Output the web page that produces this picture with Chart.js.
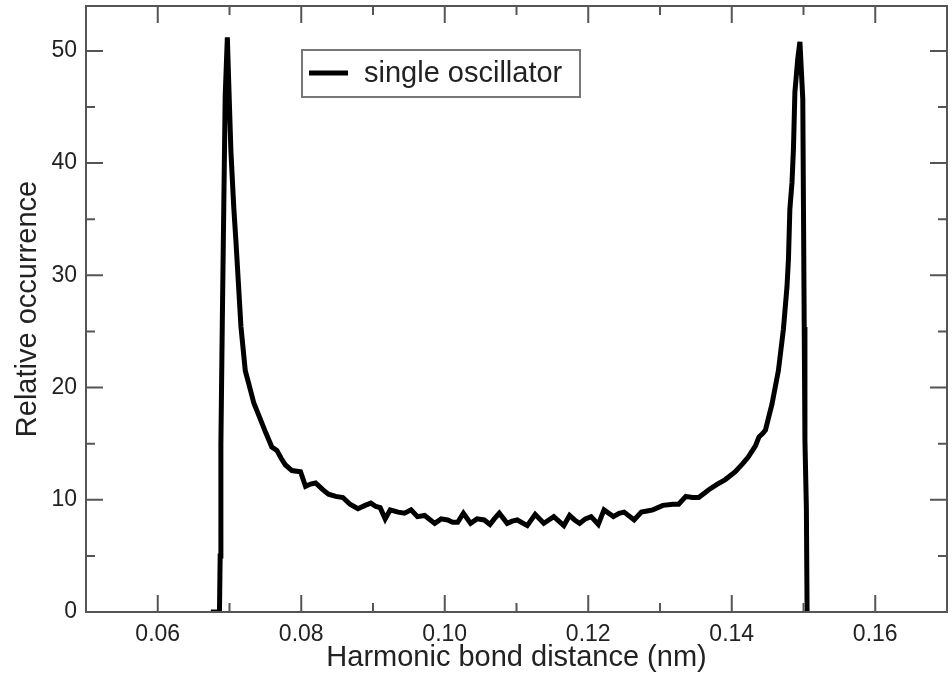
<!DOCTYPE html>
<html>
<head>
<meta charset="utf-8">
<script src="https://cdn.jsdelivr.net/npm/chart.js@4.4.1/dist/chart.umd.min.js"></script>
<style>
  body { margin: 0; background: #fff; }
  #wrap { width: 952px; height: 677px; }
</style>
</head>
<body>
<div id="wrap"><canvas id="myChart" width="952" height="677"></canvas></div>
<script>
// data
const seriesLabel = 'single oscillator';
const distance = [
  0.0674, 0.0686, 0.0687, 0.0688, 0.0690, 0.0692, 0.0694, 0.0697, 0.0699, 0.0702,
  0.0706, 0.0709, 0.0716, 0.0722, 0.0727, 0.0734, 0.0741, 0.0751, 0.0759, 0.0766,
  0.0772, 0.0778, 0.0787, 0.0799, 0.0806, 0.0813, 0.0820, 0.0830, 0.0838, 0.0848,
  0.0858, 0.0868, 0.0879, 0.0889, 0.0897, 0.0904, 0.0910, 0.0917, 0.0924, 0.0935,
  0.0944, 0.0953, 0.0962, 0.0972, 0.0986, 0.0995, 0.1004, 0.1011, 0.1018, 0.1026,
  0.1036, 0.1045, 0.1055, 0.1063, 0.1069, 0.1076, 0.1087, 0.1094, 0.1101, 0.1115,
  0.1126, 0.1138, 0.1145, 0.1152, 0.1166, 0.1174, 0.1181, 0.1188, 0.1196, 0.1204,
  0.1214, 0.1222, 0.1235, 0.1243, 0.1250, 0.1264, 0.1274, 0.1282, 0.1290, 0.1304,
  0.1318, 0.1326, 0.1336, 0.1345, 0.1354, 0.1368, 0.1380, 0.1391, 0.1405, 0.1415,
  0.1423, 0.1433, 0.1438, 0.1443, 0.1447, 0.1452, 0.1456, 0.1465, 0.1472, 0.1477,
  0.1479, 0.1481, 0.1484, 0.1486, 0.1488, 0.1492, 0.1495, 0.1499, 0.1500, 0.1501,
  0.1502, 0.1504, 0.1505, 0.1507
];
const occurrence = [
  0, 0, 5, 15, 26, 36, 46, 51.2, 47, 41,
  36, 33, 25.4, 21.5, 20.3, 18.6, 17.5, 15.9, 14.7, 14.4,
  13.7, 13.1, 12.6, 12.5, 11.2, 11.4, 11.5, 10.9, 10.5, 10.3,
  10.2, 9.6, 9.2, 9.5, 9.7, 9.4, 9.3, 8.3, 9.1, 8.9,
  8.8, 9.1, 8.5, 8.6, 7.9, 8.3, 8.2, 8.0, 8.0, 8.8,
  7.9, 8.3, 8.2, 7.8, 8.3, 8.8, 7.9, 8.1, 8.2, 7.7,
  8.7, 7.9, 8.2, 8.5, 7.7, 8.6, 8.2, 7.9, 8.3, 8.5,
  7.8, 9.1, 8.5, 8.8, 8.9, 8.2, 8.9, 9.0, 9.1, 9.5,
  9.6, 9.6, 10.3, 10.2, 10.2, 10.9, 11.4, 11.8, 12.5, 13.2,
  13.8, 14.8, 15.6, 15.9, 16.2, 17.5, 18.5, 21.5, 25.2, 29.0,
  31.4, 35.9, 38.3, 41.3, 46.3, 49.3, 50.8, 45.7, 35.6, 25.4,
  15.3, 9.3, 0, 0
];

// ticks
const xTicks = [0.06, 0.08, 0.10, 0.12, 0.14, 0.16];
const xMinor = [0.07, 0.09, 0.11, 0.13, 0.15];
const yTicks = [0, 10, 20, 30, 40, 50];
const yMinor = [5, 15, 25, 35, 45];

const points = distance.map((d, i) => ({ x: d, y: occurrence[i] }));

const textColor = '#222';
const frameColor = '#555';
const fontFamily = '"Liberation Sans", Arial, sans-serif';

// frame, inward ticks on all sides and the boxed legend
const framePlugin = {
  id: 'frame',
  afterDraw(chart) {
    const ctx = chart.ctx;
    const a = chart.chartArea;
    const sx = chart.scales.x;
    const sy = chart.scales.y;
    ctx.save();
    ctx.strokeStyle = frameColor;
    ctx.lineWidth = 2;
    ctx.strokeRect(a.left, a.top, a.right - a.left, a.bottom - a.top);

    function xTick(v, len) {
      const p = sx.getPixelForValue(v);
      ctx.moveTo(p, a.bottom); ctx.lineTo(p, a.bottom - len);
      ctx.moveTo(p, a.top); ctx.lineTo(p, a.top + len);
    }
    function yTick(v, len) {
      const p = sy.getPixelForValue(v);
      ctx.moveTo(a.left, p); ctx.lineTo(a.left + len, p);
      ctx.moveTo(a.right, p); ctx.lineTo(a.right - len, p);
    }
    ctx.beginPath();
    xTicks.forEach(v => xTick(v, 17));
    xMinor.forEach(v => xTick(v, 9));
    yTicks.forEach(v => yTick(v, 17));
    yMinor.forEach(v => yTick(v, 9));
    ctx.stroke();

    // legend
    ctx.fillStyle = '#fff';
    ctx.fillRect(302, 50, 278, 47);
    ctx.strokeStyle = '#777';
    ctx.lineWidth = 2;
    ctx.strokeRect(302, 50, 278, 47);
    ctx.strokeStyle = '#000';
    ctx.lineWidth = 5;
    ctx.beginPath();
    ctx.moveTo(309, 73); ctx.lineTo(348, 73);
    ctx.stroke();
    ctx.fillStyle = textColor;
    ctx.font = '29px ' + fontFamily;
    ctx.textBaseline = 'middle';
    ctx.fillText(chart.data.datasets[0].label, 364, 74);
    ctx.restore();
  }
};

//data
const data = {
  datasets: [{
    label: seriesLabel,
    data: points,
    borderColor: '#000',
    borderWidth: 5,
    pointRadius: 0,
    tension: 0,
    fill: false
  }]
};

//config
const config = {
  type: 'line',
  data,
  options: {
    responsive: false,
    animation: false,
    layout: { padding: { top: 6, right: 5, left: 0, bottom: 0 } },
    plugins: {
      legend: { display: false },
      tooltip: { enabled: false }
    },
    scales: {
      x: {
        type: 'linear',
        min: 0.05,
        max: 0.17,
        afterFit(scale) {
          scale.height = 65;
          scale.paddingLeft = 0;
          scale.paddingRight = 0;
        },
        afterBuildTicks(scale) { scale.ticks = xTicks.map(v => ({ value: v })); },
        grid: { display: false, drawTicks: false },
        border: { display: false },
        ticks: {
          padding: 9,
          color: textColor,
          font: { family: fontFamily, size: 23 },
          callback: v => v.toFixed(2)
        },
        title: {
          display: true,
          text: 'Harmonic bond distance (nm)',
          color: textColor,
          font: { family: fontFamily, size: 29 },
          padding: { top: 0, bottom: 2 }
        }
      },
      y: {
        min: 0,
        max: 54,
        afterFit(scale) {
          scale.width = 86;
          scale.paddingTop = 0;
          scale.paddingBottom = 0;
        },
        afterBuildTicks(scale) { scale.ticks = yTicks.map(v => ({ value: v })); },
        grid: { display: false, drawTicks: false },
        border: { display: false },
        ticks: {
          padding: 9,
          color: textColor,
          font: { family: fontFamily, size: 23 },
          callback: v => String(v)
        },
        title: {
          display: true,
          text: 'Relative occurrence',
          color: textColor,
          font: { family: fontFamily, size: 29 },
          padding: { top: 11, bottom: 0 }
        }
      }
    }
  },
  plugins: [framePlugin]
};

//initialisation chart
const myChart = new Chart(
  document.getElementById('myChart'),
  config
);
</script>
</body>
</html>
